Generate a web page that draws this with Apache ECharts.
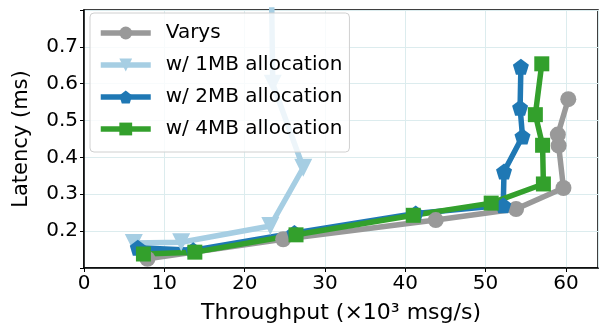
<!DOCTYPE html>
<html>
<head>
<meta charset="utf-8">
<script src="https://cdn.jsdelivr.net/npm/echarts@6/dist/echarts.min.js"></script>
<style>
html, body { margin: 0; padding: 0; background: #fff; }
#chart { width: 600px; height: 327px; }
</style>
</head>
<body>
<div id="chart"></div>
<script>
// data: [throughput (x10^3 msg/s), latency (ms)]
var varys = [[7.9, 0.125], [24.8, 0.178], [43.8, 0.23], [53.8, 0.26], [59.7, 0.317], [59.1, 0.432], [59.0, 0.462], [60.3, 0.558]];
var alloc1MB = [[6.2, 0.168], [12.1, 0.17], [23.2, 0.214], [27.3, 0.372], [23.5, 0.6], [23.2, 1.1]];
var alloc2MB = [[6.7, 0.155], [13.6, 0.148], [26.2, 0.195], [41.3, 0.248], [52.2, 0.27], [52.3, 0.362], [54.6, 0.457], [54.3, 0.535], [54.4, 0.646]];
var alloc4MB = [[7.4, 0.138], [13.8, 0.143], [26.4, 0.19], [41.0, 0.243], [50.7, 0.276], [57.2, 0.328], [57.1, 0.433], [56.2, 0.516], [57.0, 0.654]];
var seriesNames = ['Varys', 'w/ 1MB allocation', 'w/ 2MB allocation', 'w/ 4MB allocation'];

var pentagon = 'path://M50,0 L100,36 L81,95 L19,95 L0,36 Z';
var triDown = 'path://M0,0 L100,0 L50,87 Z';

var chart = echarts.init(document.getElementById('chart'));
var font = 'DejaVu Sans';

function mk(name, data, color, symbol, size) {
    return {
        name: name,
        type: 'line',
        data: data,
        symbol: symbol,
        symbolSize: size,
        showAllSymbol: true,
        clip: true,
        lineStyle: { color: color, width: 5.5 },
        itemStyle: { color: color },
        emphasis: { disabled: true },
        animation: false
    };
}

option = {
    animation: false,
    grid: {
        left: 84, top: 10, right: 2, bottom: 59,
        outerBoundsMode: 'none',
        show: true, borderColor: '#000', borderWidth: 1.5, backgroundColor: '#fff'
    },
    legend: {
        orient: 'vertical',
        left: 90, top: 13,
        itemWidth: 50, itemHeight: 16, itemGap: 12,
        padding: [10, 7, 13, 8],
        borderColor: '#d0d0d0', borderWidth: 1, borderRadius: 4,
        backgroundColor: 'rgba(255,255,255,0.8)',
        lineStyle: { width: 5.5 },
        textStyle: { fontFamily: font, fontSize: 20, color: '#000', padding: [0, 0, 0, 10] },
        data: seriesNames
    },
    xAxis: {
        type: 'value', min: 0, max: 64, interval: 10,
        name: 'Throughput (×10³ msg/s)', nameLocation: 'middle', nameGap: 34,
        nameTextStyle: { fontFamily: font, fontSize: 22, color: '#000' },
        axisLine: { show: true, onZero: false, lineStyle: { color: '#000', width: 1.5 } },
        axisTick: { show: true, length: 4, lineStyle: { color: '#000' } },
        axisLabel: { fontFamily: font, fontSize: 20, color: '#000', margin: 6, showMaxLabel: false },
        splitLine: { show: true, lineStyle: { color: '#dcecee', width: 1 } }
    },
    yAxis: {
        type: 'value', min: 0.1, max: 0.8, interval: 0.1,
        name: 'Latency (ms)', nameLocation: 'middle', nameGap: 52,
        nameTextStyle: { fontFamily: font, fontSize: 21, color: '#000' },
        axisLine: { show: true, lineStyle: { color: '#000', width: 1.5 } },
        axisTick: { show: true, length: 4, lineStyle: { color: '#000' } },
        axisLabel: {
            fontFamily: font, fontSize: 20, color: '#000', margin: 6,
            formatter: function (v) {
                var r = Math.round(v * 10) / 10;
                if (r < 0.15 || r > 0.75) return '';
                return r.toFixed(1);
            }
        },
        splitLine: { show: true, lineStyle: { color: '#dcecee', width: 1 } }
    },
    series: [
        mk(seriesNames[0], varys, '#999999', 'circle', 16),
        mk(seriesNames[1], alloc1MB, '#a6cee3', triDown, 18),
        mk(seriesNames[2], alloc2MB, '#1f78b4', pentagon, 16),
        mk(seriesNames[3], alloc4MB, '#33a02c', 'rect', 15)
    ]
};
chart.setOption(option);
</script>
</body>
</html>
